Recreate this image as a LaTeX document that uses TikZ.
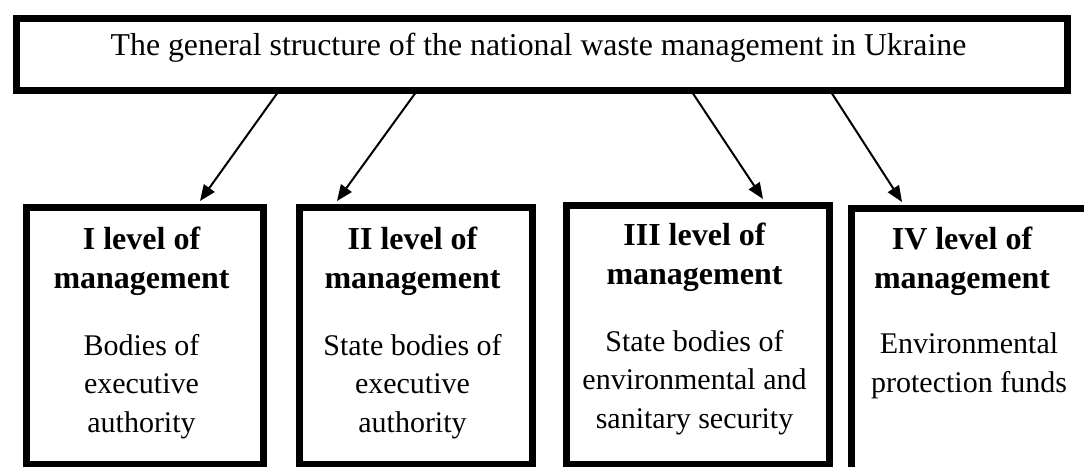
\documentclass[tikz,border=0pt]{standalone}
\usepackage{fontspec}
\setmainfont{Liberation Serif}
\usetikzlibrary{arrows.meta,calc}
\begin{document}
\begin{tikzpicture}[x=1pt,y=-1pt,
  frame/.style={draw=black,line width=6.5pt,fill=white,inner sep=0pt,anchor=north west},
  txt/.style={inner sep=0pt,anchor=base,align=center,font=\fontsize{30}{38.5}\selectfont},
  head/.style={txt,font=\fontsize{32}{38.5}\selectfont\bfseries},
  conn/.style={line width=2pt,-{Triangle[length=16pt,width=13pt]}}]
\useasboundingbox (0,0) rectangle (1084,466);
\node[frame,minimum width=1051pt,minimum height=72pt] (top) at (13,15) {};
\node[frame,minimum width=237pt,minimum height=257pt] (b1) at (23,204) {};
\node[frame,minimum width=233pt,minimum height=257pt] (b2) at (296,204) {};
\node[frame,minimum width=263pt,minimum height=259pt] (b3) at (563,202) {};
\node[frame,minimum width=245pt,minimum height=263pt] (b4) at (848,205) {};
\node[txt,font=\fontsize{31.8}{38.5}\selectfont] (title) at (538.5,55) {The general structure of the national waste management in Ukraine};
\node[head] (h1) at (141.5,288) {I level of\\management};
\node[head] (h2) at (412.5,288) {II level of\\management};
\node[head] (h3) at (694.5,284) {III level of\\management};
\node[head] (h4) at (962,288) {IV level of\\management};
\node[txt] (t1) at (141.5,432) {Bodies of\\executive\\authority};
\node[txt] (t2) at (412.5,432) {State bodies of\\executive\\authority};
\node[txt] (t3) at (694.5,428) {State bodies of\\environmental and\\sanitary security};
\node[txt] (t4) at (969,392) {Environmental\\protection funds};
\draw[conn] ($(top.south west)+(264,0)$) -- ($(b1.north west)+(177,-3)$);
\draw[conn] ($(top.south west)+(402,0)$) -- ($(b2.north west)+(41,-3)$);
\draw[conn] ($(top.south west)+(680,0)$) -- ($(b3.north west)+(200,-3)$);
\draw[conn] ($(top.south west)+(819,0)$) -- ($(b4.north west)+(54,-3)$);
\end{tikzpicture}
\end{document}
